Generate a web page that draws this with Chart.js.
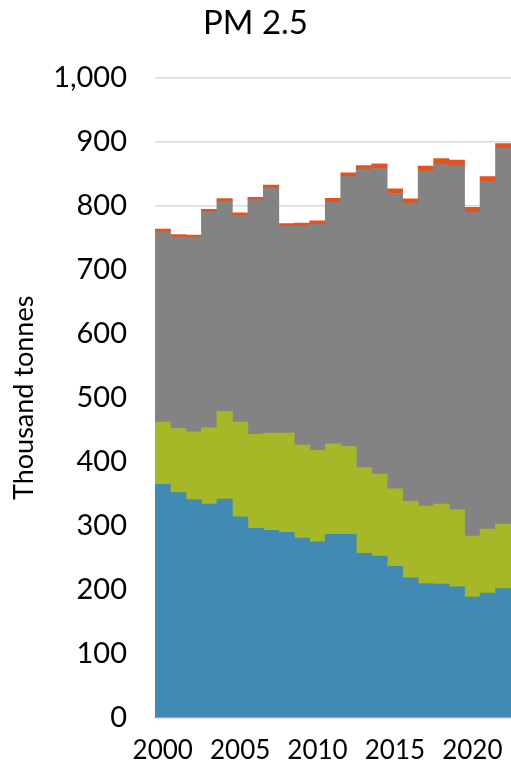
<!DOCTYPE html>
<html>
<head>
<meta charset="utf-8">
<script src="https://cdn.jsdelivr.net/npm/chart.js@4"></script>
<style>
  html, body { margin: 0; padding: 0; background: #ffffff; overflow: hidden; }
  #chart { display: block; }
</style>
</head>
<body>
<canvas id="chart" width="511" height="766"></canvas>
<script>
// PM 2.5 emissions, thousand tonnes, 2000-2022
const years = [2000, 2001, 2002, 2003, 2004, 2005, 2006, 2007, 2008, 2009, 2010, 2011,
  2012, 2013, 2014, 2015, 2016, 2017, 2018, 2019, 2020, 2021, 2022];
const blueValues = [365, 352, 341, 334, 342, 314, 296, 293, 290, 281, 275, 287,
  287, 257, 253, 237, 219, 210, 209, 205, 189, 195, 202];
const greenValues = [97, 100, 106, 119, 137, 148, 147, 152, 155, 145, 143, 141,
  137, 134, 128, 121, 119, 121, 125, 120, 95, 100, 101];
const grayValues = [297, 299, 304, 337, 328, 323, 366, 383, 323, 342, 353, 378,
  422, 466, 477, 461, 466, 523, 530, 537, 506, 543, 587];
const orangeValues = [4.5, 3.7, 3, 4.2, 4, 4, 4, 4.2, 4.2, 4.8, 5.2, 5.3,
  5.3, 5.7, 7.3, 7.3, 6.8, 7.8, 9.5, 9.4, 7.3, 7.3, 6.9];
const yTicks = [0, 100, 200, 300, 400, 500, 600, 700, 800, 900, 1000];

const fontFamily = 'Lato, "Open Sans", sans-serif';
const textColor = '#000000';
const gridColor = '#d9d9d9';

function makeSeries(label, data, color) {
  return {
    label,
    data,
    backgroundColor: color,
    borderWidth: 0,
    barPercentage: 1,
    categoryPercentage: 1,
  };
}

new Chart(document.getElementById('chart'), {
  type: 'bar',
  data: {
    labels: years.map(String),
    datasets: [
      makeSeries('Blue', blueValues, '#418ab3'),
      makeSeries('Green', greenValues, '#a6b727'),
      makeSeries('Gray', grayValues, '#838383'),
      makeSeries('Orange', orangeValues, '#e2531f'),
    ],
  },
  options: {
    responsive: false,
    animation: false,
    layout: { padding: 0 },
    plugins: {
      legend: { display: false },
      tooltip: { enabled: false },
      title: {
        display: true,
        text: 'PM 2.5',
        color: textColor,
        font: { family: fontFamily, size: 33, weight: 'normal' },
        padding: { top: 4, bottom: 34 },
      },
    },
    scales: {
      x: {
        stacked: true,
        afterFit: (scale) => { scale.height = 48; },
        // tick marks hidden, their length only pushes the labels down
        grid: { display: false, drawTicks: true, tickLength: 17 },
        border: { display: true, color: gridColor, width: 1.5 },
        ticks: {
          autoSkip: false,
          maxRotation: 0,
          padding: 0,
          color: textColor,
          font: { family: fontFamily, size: 26 },
          callback: (value, index) => (years[index] % 5 === 0 ? String(years[index]) : ''),
        },
      },
      y: {
        stacked: true,
        min: 0,
        max: 1000,
        afterFit: (scale) => { scale.width = 155; },
        afterBuildTicks: (scale) => { scale.ticks = yTicks.map((value) => ({ value })); },
        grid: { color: gridColor, lineWidth: 1.5, drawTicks: false },
        border: { display: false },
        ticks: {
          padding: 28,
          color: textColor,
          font: { family: fontFamily, size: 29 },
          callback: (value) => value.toLocaleString('en-US'),
        },
        title: {
          display: true,
          text: 'Thousand tonnes',
          color: textColor,
          font: { family: fontFamily, size: 27 },
          padding: { top: 8, bottom: 0 },
        },
      },
    },
  },
});
</script>
</body>
</html>
